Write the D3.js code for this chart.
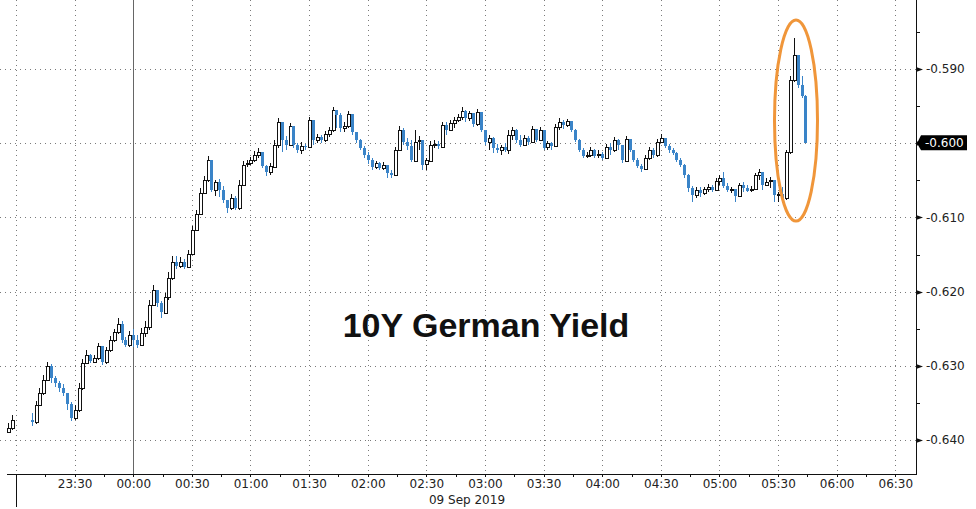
<!DOCTYPE html>
<html><head><meta charset="utf-8">
<script src="https://cdn.jsdelivr.net/npm/d3@7"></script>
<style>html,body{margin:0;padding:0;background:#fff;} svg{display:block}</style>
</head><body><svg id="c" width="976" height="509"></svg>
<script>
// ---------------- DATA ----------------
const firstBarTime = new Date(2019, 8, 8, 22, 56); // 2-minute bars
const barMinutes = 2;
const firstOpen = -0.6389;
const close = [
-0.6384,-0.6373,null,null,null,null,-0.6376,-0.6353,-0.6337,-0.6319,
-0.6300,-0.6316,-0.6323,-0.6330,-0.6337,-0.6351,-0.6370,-0.6359,-0.6330,-0.6296,
-0.6285,-0.6294,-0.6289,-0.6273,-0.6295,-0.6279,-0.6265,-0.6254,-0.6243,-0.6265,
-0.6272,-0.6258,-0.6265,-0.6272,-0.6256,-0.6248,-0.6218,-0.6198,-0.6215,-0.6228,
-0.6207,-0.6182,-0.6160,-0.6166,-0.6160,-0.6167,-0.6149,-0.6117,-0.6095,-0.6067,
-0.6050,-0.6023,-0.6063,-0.6052,-0.6063,-0.6077,-0.6087,-0.6074,-0.6087,-0.6056,
-0.6029,-0.6027,-0.6023,-0.6016,-0.6012,-0.6031,-0.6039,-0.6031,-0.6002,-0.5971,
-0.5996,-0.6002,-0.5977,-0.6002,-0.6009,-0.6004,-0.6005,-0.5969,-0.5996,-0.5992,
-0.5996,-0.5988,-0.5982,-0.5955,-0.5962,-0.5980,-0.5977,-0.5961,-0.5985,-0.5996,
-0.6006,-0.6016,-0.6023,-0.6032,-0.6027,-0.6033,-0.6029,-0.6040,-0.6043,-0.6009,
-0.5982,-0.5998,-0.6004,-0.6023,-0.5998,-0.5996,-0.6029,-0.6023,-0.6002,-0.6001,
-0.6004,-0.5975,-0.5982,-0.5973,-0.5969,-0.5965,-0.5957,-0.5966,-0.5959,-0.5974,
-0.5958,-0.5982,-0.5998,-0.5993,-0.6006,-0.6009,-0.6005,-0.6009,-0.5989,-0.5982,
-0.5996,-0.6002,-0.5993,-0.5998,-0.5981,-0.5996,-0.5982,-0.6006,-0.6000,-0.6004,
-0.5978,-0.5971,-0.5975,-0.5970,-0.5982,-0.5996,-0.6009,-0.6017,-0.6016,-0.6009,
-0.6017,-0.6015,-0.6020,-0.6005,-0.6009,-0.5996,-0.6002,-0.6023,-0.5994,-0.6009,
-0.6023,-0.6031,-0.6035,-0.6020,-0.6009,-0.6016,-0.5998,-0.5993,-0.6004,-0.6009,
-0.6013,-0.6023,-0.6029,-0.6043,-0.6060,-0.6070,-0.6063,-0.6067,-0.6062,-0.6059,
-0.6063,-0.6051,-0.6047,-0.6058,-0.6063,-0.6062,-0.6071,-0.6056,-0.6060,-0.6064,
-0.6062,-0.6043,-0.6039,-0.6056,-0.6052,-0.6050,-0.6070,-0.6068,-0.6074,-0.6012,
-0.5915,-0.5881,-0.5922,-0.5936,-0.6000
];
const high = [
-0.6377,-0.6366,null,null,null,null,-0.6364,-0.6347,-0.6330,-0.6312,
-0.6295,-0.6298,-0.6314,-0.6320,-0.6325,-0.6337,-0.6349,-0.6353,-0.6323,-0.6291,
-0.6279,-0.6284,-0.6285,-0.6269,-0.6276,-0.6275,-0.6260,-0.6250,-0.6235,-0.6240,
-0.6261,-0.6253,-0.6250,-0.6258,-0.6249,-0.6240,-0.6211,-0.6191,-0.6198,-0.6213,
-0.6202,-0.6174,-0.6152,-0.6152,-0.6153,-0.6156,-0.6144,-0.6112,-0.6090,-0.6060,
-0.6044,-0.6017,-0.6030,-0.6050,-0.6048,-0.6058,-0.6077,-0.6068,-0.6071,-0.6050,
-0.6024,-0.6023,-0.6019,-0.6011,-0.6006,-0.6012,-0.6029,-0.6027,-0.5996,-0.5966,
-0.5975,-0.5990,-0.5973,-0.5978,-0.6000,-0.5998,-0.6001,-0.5965,-0.5970,-0.5988,
-0.5989,-0.5984,-0.5978,-0.5951,-0.5957,-0.5959,-0.5971,-0.5957,-0.5962,-0.5985,
-0.5994,-0.6004,-0.6012,-0.6020,-0.6024,-0.6025,-0.6025,-0.6031,-0.6036,-0.6005,
-0.5977,-0.5980,-0.5993,-0.5996,-0.5982,-0.5990,-0.6000,-0.6020,-0.5997,-0.5996,
-0.5997,-0.5971,-0.5971,-0.5969,-0.5965,-0.5961,-0.5951,-0.5955,-0.5957,-0.5959,
-0.5954,-0.5961,-0.5982,-0.5989,-0.5992,-0.6001,-0.6002,-0.6000,-0.5982,-0.5978,
-0.5981,-0.5989,-0.5989,-0.5990,-0.5977,-0.5982,-0.5978,-0.5984,-0.5997,-0.5998,
-0.5974,-0.5966,-0.5969,-0.5967,-0.5970,-0.5981,-0.5994,-0.6006,-0.6012,-0.6005,
-0.6008,-0.6009,-0.6012,-0.6001,-0.6000,-0.5992,-0.5994,-0.6004,-0.5990,-0.5994,
-0.6009,-0.6020,-0.6028,-0.6016,-0.6005,-0.6006,-0.5994,-0.5988,-0.5993,-0.6001,
-0.6006,-0.6012,-0.6020,-0.6028,-0.6042,-0.6058,-0.6059,-0.6059,-0.6059,-0.6055,
-0.6056,-0.6047,-0.6043,-0.6039,-0.6054,-0.6059,-0.6062,-0.6054,-0.6052,-0.6056,
-0.6058,-0.6040,-0.6035,-0.6039,-0.6047,-0.6046,-0.6050,-0.6066,-0.6059,-0.6009,
-0.5909,-0.5858,-0.5885,-0.5909,-0.5935
];
const low = [
-0.6389,-0.6387,null,null,null,null,-0.6381,-0.6378,-0.6354,-0.6339,
-0.6320,-0.6323,-0.6329,-0.6335,-0.6341,-0.6359,-0.6375,-0.6373,-0.6362,-0.6332,
-0.6298,-0.6296,-0.6295,-0.6292,-0.6299,-0.6298,-0.6281,-0.6268,-0.6257,-0.6269,
-0.6275,-0.6275,-0.6275,-0.6276,-0.6273,-0.6261,-0.6252,-0.6220,-0.6221,-0.6236,
-0.6230,-0.6211,-0.6184,-0.6170,-0.6168,-0.6170,-0.6168,-0.6151,-0.6117,-0.6095,
-0.6068,-0.6052,-0.6066,-0.6071,-0.6072,-0.6081,-0.6094,-0.6090,-0.6090,-0.6090,
-0.6056,-0.6032,-0.6029,-0.6025,-0.6020,-0.6033,-0.6044,-0.6043,-0.6033,-0.6006,
-0.6012,-0.6009,-0.6004,-0.6006,-0.6013,-0.6015,-0.6009,-0.6006,-0.6002,-0.6000,
-0.6000,-0.5998,-0.5992,-0.5985,-0.5980,-0.5985,-0.5985,-0.5980,-0.5989,-0.6000,
-0.6009,-0.6020,-0.6028,-0.6036,-0.6035,-0.6036,-0.6036,-0.6047,-0.6047,-0.6044,
-0.6009,-0.6002,-0.6009,-0.6025,-0.6023,-0.6009,-0.6036,-0.6036,-0.6023,-0.6006,
-0.6008,-0.6006,-0.5989,-0.5982,-0.5980,-0.5971,-0.5969,-0.5971,-0.5970,-0.5978,
-0.5977,-0.5985,-0.6002,-0.6009,-0.6013,-0.6013,-0.6016,-0.6012,-0.6015,-0.5996,
-0.6000,-0.6005,-0.6004,-0.6002,-0.5998,-0.5998,-0.5997,-0.6009,-0.6009,-0.6009,
-0.6004,-0.5982,-0.5981,-0.5978,-0.5985,-0.5998,-0.6012,-0.6020,-0.6020,-0.6019,
-0.6020,-0.6020,-0.6023,-0.6021,-0.6016,-0.6012,-0.6009,-0.6027,-0.6025,-0.6012,
-0.6025,-0.6033,-0.6039,-0.6036,-0.6023,-0.6020,-0.6019,-0.6000,-0.6006,-0.6013,
-0.6016,-0.6025,-0.6032,-0.6047,-0.6066,-0.6079,-0.6074,-0.6072,-0.6070,-0.6066,
-0.6066,-0.6063,-0.6056,-0.6060,-0.6066,-0.6067,-0.6079,-0.6072,-0.6066,-0.6066,
-0.6066,-0.6063,-0.6050,-0.6063,-0.6058,-0.6060,-0.6079,-0.6079,-0.6081,-0.6077,
-0.6015,-0.5918,-0.5926,-0.5939,-0.6000
];
const yTicks = [-0.590, -0.600, -0.610, -0.620, -0.630, -0.640];
const yMinorTicks = [-0.585, -0.595, -0.605, -0.615, -0.625, -0.635];
const xTickLabels = ["23:30","00:00","00:30","01:00","01:30","02:00","02:30","03:00","03:30","04:00","04:30","05:00","05:30","06:00","06:30"];
const extraGridLabel = "23:00";
const dayBreakLabel = "00:00";
const dateLabel = "09 Sep 2019";
const titleText = "10Y German Yield";
const lastValue = -0.600;

// ---------------- SCALES ----------------
const W = 976, H = 509;
const plotRight = 916, axisY = 474;
const toTime = s => { const [h, m] = s.split(":").map(Number); return new Date(2019, 8, h >= 12 ? 8 : 9, h, m); };
const x = d3.scaleTime()
  .domain([new Date(2019, 8, 8, 22, 51, 48), new Date(2019, 8, 9, 6, 40, 36)])
  .range([0, plotRight]);
const y = d3.scaleLinear().domain([-0.5807, -0.64458]).range([0, axisY]);

const svg = d3.select("#c");
svg.append("rect").attr("width", W).attr("height", H).attr("fill", "#fff");
const fontAxis = "'DejaVu Sans', Verdana, sans-serif";

// ---------------- GRID ----------------
const grid = svg.append("g").attr("stroke", "#7a7a7a").attr("stroke-width", 1).attr("stroke-dasharray", "1,4");
grid.selectAll("line.h").data(yTicks).join("line")
  .attr("x1", 0).attr("x2", plotRight)
  .attr("y1", d => Math.round(y(d)) + 0.5).attr("y2", d => Math.round(y(d)) + 0.5);
const gridTimes = [extraGridLabel, ...xTickLabels].filter(s => s !== dayBreakLabel).map(toTime);
grid.selectAll("line.v").data(gridTimes).join("line")
  .attr("y1", 0).attr("y2", axisY)
  .attr("x1", d => Math.round(x(d)) + 0.5).attr("x2", d => Math.round(x(d)) + 0.5);
// day break solid line
svg.append("line").attr("x1", Math.round(x(toTime(dayBreakLabel))) + 0.5).attr("x2", Math.round(x(toTime(dayBreakLabel))) + 0.5)
  .attr("y1", 0).attr("y2", axisY).attr("stroke", "#666").attr("stroke-width", 1);

// ---------------- CANDLES ----------------
const bars = [];
let prevClose = firstOpen;
close.forEach((c, i) => {
  if (c === null) return;
  const o = prevClose;
  bars.push({ t: d3.timeMinute.offset(firstBarTime, i * barMinutes), o, c, h: high[i], l: low[i] });
  prevClose = c;
});
const blue = "#3a84c8";
const cg = svg.append("g").attr("shape-rendering", "crispEdges");
bars.forEach(b => {
  const up = b.c > b.o;
  const cx = Math.round(x(b.t));
  const hi = Math.max(b.h, b.o, b.c), lo = Math.min(b.l, b.o, b.c);
  const col = up ? "#111" : blue;
  cg.append("line").attr("x1", cx + 0.5).attr("x2", cx + 0.5)
    .attr("y1", y(hi)).attr("y2", y(lo)).attr("stroke", col).attr("stroke-width", 1);
  const top = y(Math.max(b.o, b.c)), bot = y(Math.min(b.o, b.c));
  const hgt = Math.max(1, bot - top);
  if (up) {
    cg.append("rect").attr("x", cx - 1 + 0.5).attr("y", Math.round(top) + 0.5).attr("width", 3)
      .attr("height", Math.max(1, Math.round(hgt))).attr("fill", "#fff").attr("stroke", "#111").attr("stroke-width", 1);
  } else {
    cg.append("rect").attr("x", cx - 1).attr("y", top).attr("width", 3).attr("height", hgt).attr("fill", blue);
  }
});

// ---------------- AXES ----------------
svg.append("line").attr("x1", 7).attr("x2", plotRight + 0.5).attr("y1", axisY + 0.5).attr("y2", axisY + 0.5)
  .attr("stroke", "#111").attr("stroke-width", 1);
svg.append("line").attr("x1", plotRight + 0.5).attr("x2", plotRight + 0.5).attr("y1", 0).attr("y2", axisY + 1)
  .attr("stroke", "#111").attr("stroke-width", 1);
svg.append("line").attr("x1", Math.round(x(toTime(extraGridLabel))) + 0.5).attr("x2", Math.round(x(toTime(extraGridLabel))) + 0.5)
  .attr("y1", axisY).attr("y2", 507).attr("stroke", "#111").attr("stroke-width", 1);

const xAxis = d3.axisBottom(x).tickValues(xTickLabels.map(toTime)).tickSize(0).tickPadding(0)
  .tickFormat(d3.timeFormat("%H:%M"));
const gx = svg.append("g").attr("transform", `translate(0,${axisY})`).call(xAxis);
gx.select(".domain").remove();
gx.selectAll("text").attr("y", 5).attr("font-family", fontAxis).attr("font-size", 12).attr("fill", "#222");
const minorX = d3.timeMinute.every(15).range(new Date(2019, 8, 8, 23, 0), new Date(2019, 8, 9, 6, 40));
svg.append("g").selectAll("line").data(minorX).join("line")
  .attr("x1", d => Math.round(x(d)) + 0.5).attr("x2", d => Math.round(x(d)) + 0.5)
  .attr("y1", axisY).attr("y2", axisY + 3).attr("stroke", "#111");
svg.append("text").attr("x", 467).attr("y", 504).attr("text-anchor", "middle")
  .attr("font-family", fontAxis).attr("font-size", 12).attr("fill", "#222").text(dateLabel);

const yAxis = d3.axisRight(y).tickValues(yTicks).tickSize(0).tickPadding(0).tickFormat(d => d.toFixed(3));
const gy = svg.append("g").attr("transform", `translate(${plotRight},0)`).call(yAxis);
gy.select(".domain").remove();
gy.selectAll("text").attr("x", 10).attr("font-family", fontAxis).attr("font-size", 12).attr("fill", "#222");
svg.append("g").selectAll("path").data(yTicks).join("path")
  .attr("d", d => { const yy = Math.round(y(d)) + 0.5; return `M${plotRight},${yy - 2.5}L${plotRight + 7},${yy}L${plotRight},${yy + 2.5}Z`; })
  .attr("fill", "#111");
svg.append("g").selectAll("line").data(yMinorTicks).join("line")
  .attr("x1", plotRight).attr("x2", plotRight + 4)
  .attr("y1", d => Math.round(y(d)) + 0.5).attr("y2", d => Math.round(y(d)) + 0.5).attr("stroke", "#111");

const ly = y(lastValue);
svg.append("path")
  .attr("d", `M${plotRight + 1},${ly}L${plotRight + 5},${ly - 8}L967,${ly - 8}L967,${ly + 7}L${plotRight + 5},${ly + 7}Z`)
  .attr("fill", "#000");
svg.append("text").attr("x", 925).attr("y", ly).attr("dy", "0.35em")
  .attr("font-family", fontAxis).attr("font-size", 12).attr("fill", "#fff").text(lastValue.toFixed(3));

// ---------------- ANNOTATIONS ----------------
svg.append("text").attr("x", 486).attr("y", 337).attr("text-anchor", "middle")
  .attr("font-family", "'Liberation Sans', Arial, sans-serif").attr("font-weight", "bold")
  .attr("font-size", 34).attr("fill", "#111").text(titleText);
svg.append("ellipse").attr("cx", 796).attr("cy", 120.5).attr("rx", 21.5).attr("ry", 100.5)
  .attr("fill", "none").attr("stroke", "#f0963a").attr("stroke-width", 3);
</script>
</body></html>
